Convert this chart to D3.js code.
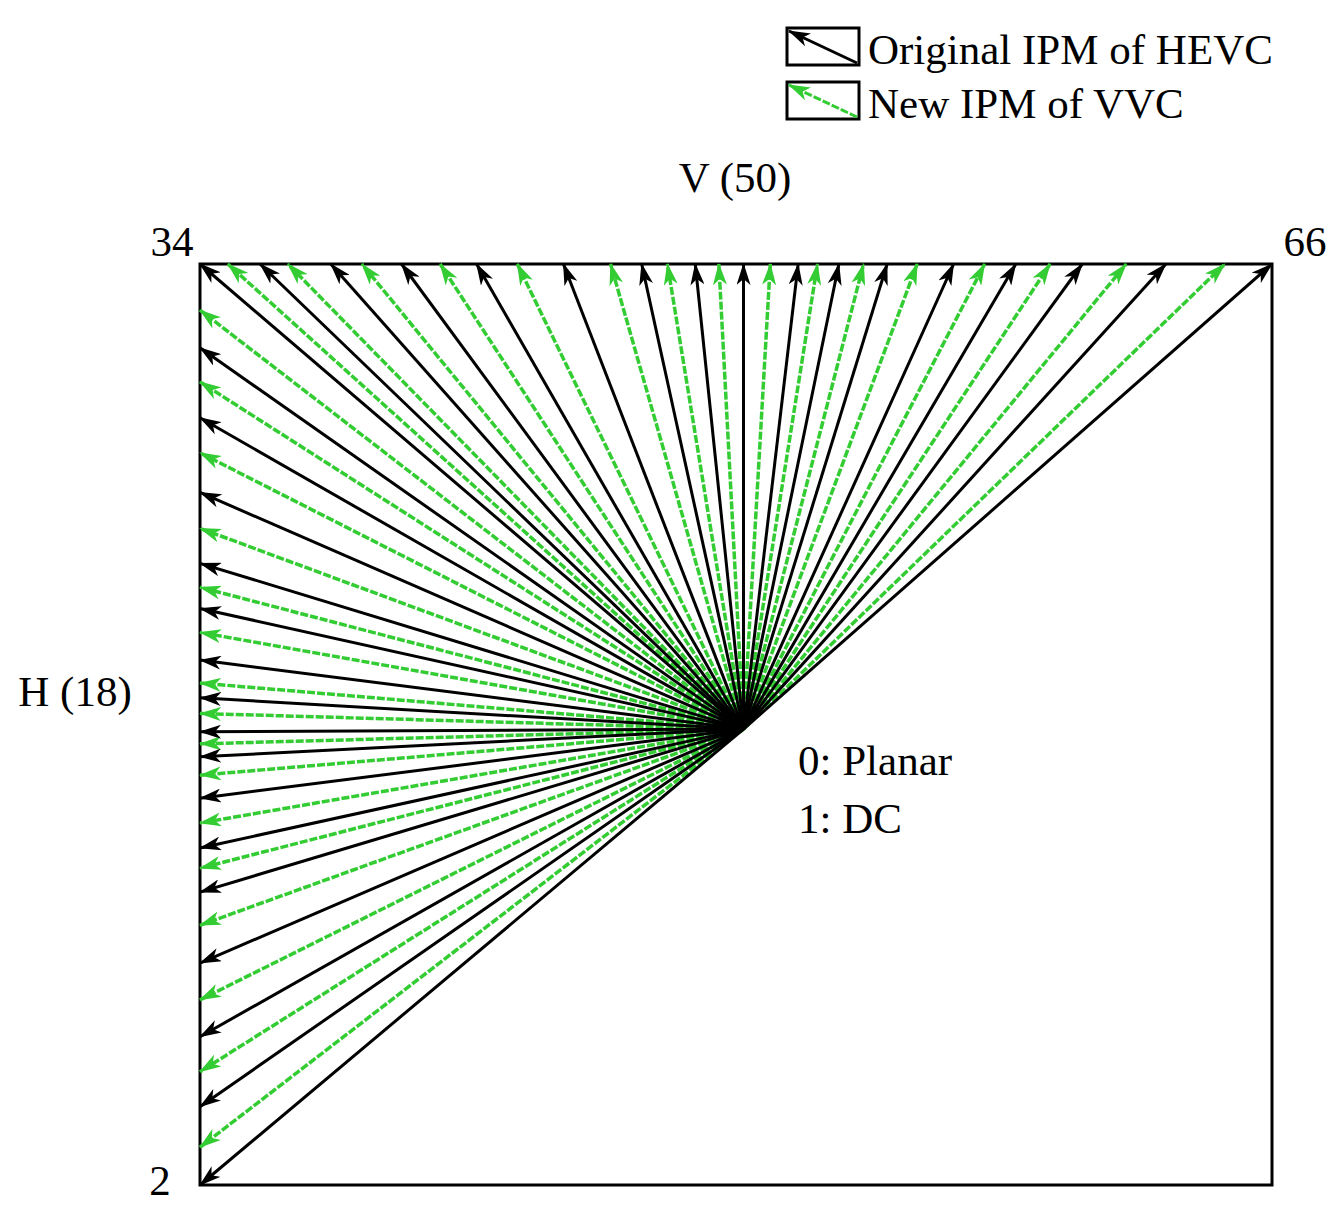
<!DOCTYPE html>
<html>
<head>
<meta charset="utf-8">
<script src="https://cdn.jsdelivr.net/npm/d3@7"></script>
<style>
  body { margin: 0; background: #fff; }
  text { font-family: "Liberation Serif", "Times New Roman", serif; fill: #000; }
</style>
</head>
<body>
<svg width="1343" height="1219"></svg>
<script>
// mode tips along the left edge (modes 2..33), 0 = top, 100 = bottom of the box
var leftModes = d3.range(2, 34);
var leftPos = [100, 95.9, 91.5, 87.7, 83.9, 79.9, 75.9, 71.8, 68.2, 65.6, 63.4, 60.7, 58.0, 55.5, 53.5, 52.1,
  50.8, 48.8, 47.1, 45.5, 43.0, 40.0, 37.4, 35.1, 32.5, 28.7, 24.8, 20.5, 16.7, 12.8, 9.1, 5.0];
// mode tips along the top edge (modes 34..66), 0 = left, 100 = right of the box
var topModes = d3.range(34, 67);
var topPos = [0, 2.6, 5.6, 8.2, 12.2, 15.1, 18.8, 22.4, 25.8, 29.6, 33.9, 38.3, 41.2, 43.6, 46.2, 48.4, 50.7,
  53.2, 55.8, 57.6, 59.6, 61.9, 64.1, 66.9, 70.3, 73.2, 76.1, 79.3, 82.3, 86.4, 90.1, 95.6, 100];
var center = [50.7, 50.5];
var legendLabels = ["Original IPM of HEVC", "New IPM of VVC"];

var green = "#33cc33";
var svg = d3.select("svg");

var x = d3.scaleLinear().domain([0, 100]).range([200, 1272]);
var y = d3.scaleLinear().domain([0, 100]).range([264, 1185]);

// arrowheads
var defs = svg.append("defs");
[["black", "#000"], ["green", green]].forEach(function(m) {
  defs.append("marker")
    .attr("id", "head-" + m[0])
    .attr("viewBox", "0 0 22 14")
    .attr("refX", 21).attr("refY", 7)
    .attr("markerWidth", 22).attr("markerHeight", 14)
    .attr("markerUnits", "userSpaceOnUse")
    .attr("orient", "auto")
    .append("path")
    .attr("d", "M0,0 L22,7 L0,14 L6,7 Z")
    .attr("fill", m[1]);
});

// frame
svg.append("rect")
  .attr("x", x(0)).attr("y", y(0))
  .attr("width", x(100) - x(0)).attr("height", y(100) - y(0))
  .attr("fill", "none").attr("stroke", "#000").attr("stroke-width", 3);

// build all modes
var modes = [];
leftModes.forEach(function(m, i) { modes.push({ mode: m, tx: 0, ty: leftPos[i] }); });
topModes.forEach(function(m, i) { modes.push({ mode: m, tx: topPos[i], ty: 0 }); });

// green (VVC-only) first, black on top
var odd = modes.filter(function(d) { return d.mode % 2 === 1; });
var even = modes.filter(function(d) { return d.mode % 2 === 0; });

svg.selectAll("line.vvc").data(odd).enter().append("line")
  .attr("class", "vvc")
  .attr("x1", x(center[0])).attr("y1", y(center[1]))
  .attr("x2", function(d) { return x(d.tx); })
  .attr("y2", function(d) { return y(d.ty); })
  .attr("stroke", green).attr("stroke-width", 3.5)
  .attr("stroke-dasharray", "8,2")
  .attr("marker-end", "url(#head-green)");

svg.selectAll("line.hevc").data(even).enter().append("line")
  .attr("class", "hevc")
  .attr("x1", x(center[0])).attr("y1", y(center[1]))
  .attr("x2", function(d) { return x(d.tx); })
  .attr("y2", function(d) { return y(d.ty); })
  .attr("stroke", "#000").attr("stroke-width", 3)
  .attr("marker-end", "url(#head-black)");

// labels
function label(t, px, py, anchor) {
  svg.append("text").attr("x", px).attr("y", py)
    .attr("font-size", 43).attr("text-anchor", anchor || "start").text(t);
}
label("34", 172, 256, "middle");
label("66", 1305, 256, "middle");
label("2", 160, 1195, "middle");
label("V (50)", 735, 192, "middle");
label("H (18)", 75, 706, "middle");
label("0: Planar", 798, 775);
label("1: DC", 798, 833);

// legend
var legend = svg.append("g");
legendLabels.forEach(function(t, i) {
  var top = 28 + i * 54;
  legend.append("rect").attr("x", 787).attr("y", top).attr("width", 72).attr("height", 37)
    .attr("fill", "none").attr("stroke", "#000").attr("stroke-width", 3);
  legend.append("line")
    .attr("x1", 857).attr("y1", top + 35).attr("x2", 789).attr("y2", top + 3)
    .attr("stroke", i === 0 ? "#000" : green).attr("stroke-width", 3)
    .attr("stroke-dasharray", i === 0 ? null : "8,2")
    .attr("marker-end", i === 0 ? "url(#head-black)" : "url(#head-green)");
  label(t, 868, top + 36);
});
</script>
</body>
</html>
